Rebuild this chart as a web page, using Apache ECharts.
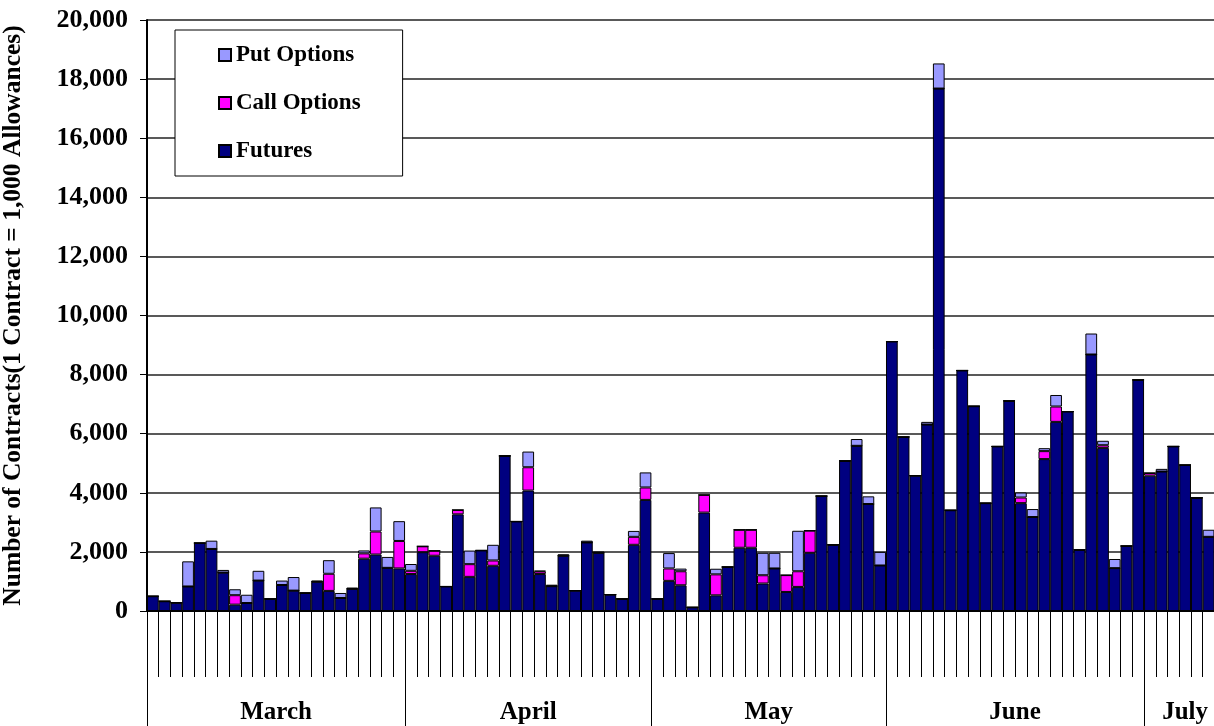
<!DOCTYPE html>
<html>
<head>
<meta charset="utf-8">
<title>Contracts traded</title>
<script src="https://cdn.jsdelivr.net/npm/echarts@6/dist/echarts.min.js"></script>
<style>
  html, body { margin: 0; padding: 0; background: #fff; }
  #chart { width: 1214px; height: 726px; }
</style>
</head>
<body>
<div id="chart"></div>
<script>
// trading days shown per month
var months = ['March', 'April', 'May', 'June', 'July']
var daysPerMonth = [22, 21, 20, 22, 7]

// daily volumes, contracts
var futures = [
  500, 330, 280, 830, 2300, 2100, 1300, 215, 270, 1030, 410, 880, 690, 610, 990, 680, 440, 750, 1770, 1910, 1460, 1440,
  1250, 1990, 1870, 830, 3270, 1155, 2050, 1530, 5250, 3030, 4075, 1250, 840, 1870, 690, 2320, 1970, 555, 410, 2240, 3760,
  410, 1020, 870, 125, 3330, 530, 1490, 2140, 2140, 930, 1440, 645, 815, 1970, 3890, 2240, 5080, 5590, 3620, 1540,
  9120, 5890, 4580, 6310, 17680, 3410, 8140, 6930, 3650, 5570, 7110, 3650, 3180, 5140, 6400, 6750, 2070, 8680, 5520, 1450, 2200, 7820,
  4580, 4720, 5570, 4940, 3830, 2510, 4100
]
var callOptions = [
  0, 0, 0, 0, 0, 0, 0, 320, 0, 0, 0, 0, 0, 0, 0, 580, 0, 0, 180, 780, 0, 930,
  110, 200, 170, 0, 150, 430, 0, 180, 0, 0, 790, 90, 0, 0, 0, 0, 0, 0, 0, 270, 420,
  0, 420, 475, 0, 600, 710, 0, 610, 610, 280, 0, 570, 530, 750, 0, 0, 0, 0, 0, 0,
  0, 0, 0, 0, 0, 0, 0, 0, 0, 0, 0, 190, 0, 270, 520, 0, 0, 0, 90, 0, 0, 0,
  90, 0, 0, 0, 0, 0, 0
]
var putOptions = [
  0, 0, 0, 850, 0, 280, 90, 200, 280, 330, 0, 150, 460, 0, 40, 460, 170, 40, 100, 815, 370, 670,
  230, 0, 0, 0, 0, 460, 0, 530, 0, 0, 530, 20, 50, 50, 0, 60, 40, 0, 0, 200, 510,
  0, 520, 90, 0, 0, 190, 0, 0, 0, 760, 530, 0, 1370, 0, 0, 0, 0, 230, 260, 460,
  0, 0, 0, 90, 850, 0, 0, 0, 0, 0, 0, 170, 270, 100, 390, 0, 0, 710, 150, 310, 0, 0,
  0, 90, 0, 0, 0, 240, 0
]

var days = []
var monthEdges = [0]
var monthMids = []
months.forEach(function(m, i) {
  for (var d = 1; d <= daysPerMonth[i]; d++) days.push(m + ' ' + d)
  var start = monthEdges[i]
  monthEdges.push(start + daysPerMonth[i])
  monthMids.push(start + daysPerMonth[i] / 2)
})

var font = 'Liberation Serif'
var pitch = 11.73

var chart = echarts.init(document.getElementById('chart'))
chart.setOption({
  animation: false,
  backgroundColor: '#fff',
  grid: {
    left: 147,
    top: 20,
    height: 591,
    width: pitch * days.length,
    outerBoundsMode: 'none'
  },
  legend: {
    orient: 'vertical',
    left: 175,
    top: 30,
    data: ['Put Options', 'Call Options', 'Futures'],
    icon: 'rect',
    itemWidth: 12,
    itemHeight: 12,
    itemGap: 24,
    padding: [13, 42, 13, 43],
    borderColor: '#000',
    borderWidth: 1,
    backgroundColor: '#fff',
    textStyle: { fontFamily: font, fontWeight: 'bold', fontSize: 23, color: '#000', lineHeight: 24 }
  },
  xAxis: [{
    type: 'category',
    data: days,
    axisLine: { lineStyle: { color: '#000', width: 2 } },
    axisTick: { show: true, interval: 0, length: 66, lineStyle: { color: '#000', width: 1 } },
    axisLabel: { show: false }
  }, {
    type: 'value',
    min: 0,
    max: days.length,
    position: 'bottom',
    axisLine: { show: false },
    splitLine: { show: false },
    axisTick: { show: true, length: 120, customValues: monthEdges, lineStyle: { color: '#000', width: 1 } },
    axisLabel: {
      customValues: monthMids,
      margin: 89,
      fontFamily: font,
      fontWeight: 'bold',
      fontSize: 25,
      color: '#000',
      formatter: function(v) { return months[monthMids.indexOf(v)] || '' }
    }
  }],
  yAxis: {
    type: 'value',
    min: 0,
    max: 20000,
    interval: 2000,
    name: 'Number of Contracts(1 Contract = 1,000 Allowances)',
    nameLocation: 'middle',
    nameGap: 121,
    nameTextStyle: { fontFamily: font, fontWeight: 'bold', fontSize: 25.5, color: '#000' },
    axisLine: { show: true, lineStyle: { color: '#000', width: 2 } },
    axisTick: { show: true, length: 7, lineStyle: { color: '#000' } },
    axisLabel: {
      margin: 19,
      fontFamily: font,
      fontWeight: 'bold',
      fontSize: 26,
      color: '#000',
      formatter: function(v) { return v.toLocaleString('en-US') }
    },
    splitLine: { lineStyle: { color: '#222', width: 1.5 } }
  },
  series: [{
    name: 'Futures',
    type: 'bar',
    stack: 'vol',
    barCategoryGap: '0%',
    data: futures,
    itemStyle: { color: '#000080', borderColor: '#000', borderWidth: 1 }
  }, {
    name: 'Call Options',
    type: 'bar',
    stack: 'vol',
    data: callOptions,
    itemStyle: { color: '#FF00FF', borderColor: '#000', borderWidth: 1 }
  }, {
    name: 'Put Options',
    type: 'bar',
    stack: 'vol',
    data: putOptions,
    itemStyle: { color: '#9999FF', borderColor: '#000', borderWidth: 1 }
  }]
})
</script>
</body>
</html>
